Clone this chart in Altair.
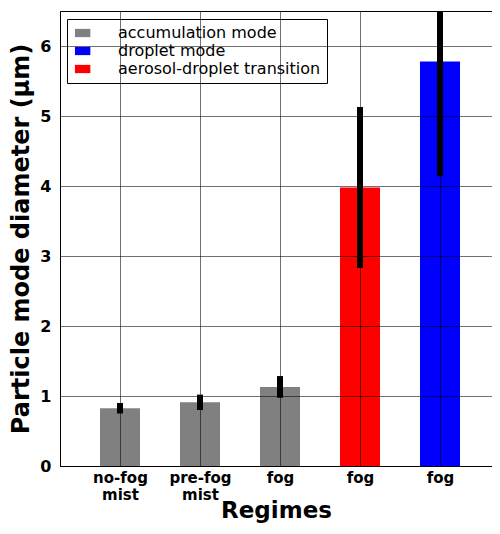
import json
import altair as alt
import pandas as pd

positions = [0, 1, 2, 3, 4]
values = [0.825, 0.91, 1.13, 3.98, 5.78]
errors = [0.075, 0.11, 0.155, 1.15, 1.64]
modes = ["accumulation mode", "accumulation mode", "accumulation mode",
         "aerosol-droplet transition", "droplet mode"]
tick_labels = [["no-fog", "mist"], ["pre-fog", "mist"], ["fog"], ["fog"], ["fog"]]
legend_order = ["accumulation mode", "droplet mode", "aerosol-droplet transition"]
legend_colors = ["#808080", "#0000ff", "#ff0000"]

df = pd.DataFrame({
    "pos": positions,
    "value": values,
    "err": errors,
    "mode": modes,
})
df["left"] = df["pos"] - 0.25
df["right"] = df["pos"] + 0.25
df["lo"] = df["value"] - df["err"]
df["hi"] = df["value"] + df["err"]

FONT = "DejaVu Sans"
label_expr = json.dumps(tick_labels).replace('"', "'") + "[datum.value]"

xscale = alt.Scale(domain=[-0.75, 4.65], nice=False, zero=False)
yscale = alt.Scale(domain=[0, 6.5], nice=False)

base = alt.Chart(df)

bars = base.mark_rect().encode(
    x=alt.X("left:Q", scale=xscale,
            axis=alt.Axis(values=positions, labelExpr=label_expr, title="Regimes",
                          grid=True, gridColor="#000000", gridOpacity=0.7, gridWidth=0.8,
                          ticks=False, labelFont=FONT, labelFontSize=15, labelFontWeight="bold",
                          labelColor="#000", labelPadding=4, labelLineHeight=17,
                          titleFont=FONT, titleFontSize=23, titleFontWeight="bold",
                          titleColor="#000", titlePadding=-3, domainColor="#000", zindex=1)),
    x2="right:Q",
    y=alt.Y("value:Q", scale=yscale,
            axis=alt.Axis(values=[0, 1, 2, 3, 4, 5, 6], format="d",
                          title="Particle mode diameter (μm)",
                          grid=True, gridColor="#000000", gridOpacity=0.7, gridWidth=0.8,
                          ticks=False, labelFont=FONT, labelFontSize=16, labelFontWeight="bold",
                          labelColor="#000", labelPadding=9,
                          titleFont=FONT, titleFontSize=24, titleFontWeight="bold",
                          titleColor="#000", titlePadding=6, domainColor="#000", zindex=1)),
    y2=alt.datum(0),
    color=alt.Color("mode:N",
                    scale=alt.Scale(domain=legend_order, range=legend_colors),
                    legend=alt.Legend(title=None, orient="none", legendX=7, legendY=8,
                                      fillColor="#ffffff", strokeColor="#000000",
                                      padding=6, labelFont=FONT, labelFontSize=16,
                                      labelColor="#000", labelLimit=400,
                                      symbolType="M-1.1,-0.75H1.7V0.75H-1.1Z",
                                      symbolSize=121, symbolStrokeWidth=0, symbolOpacity=1,
                                      rowPadding=2, labelOffset=29, cornerRadius=0)),
)

errbars = base.mark_rule(color="#000000", strokeWidth=6, clip=True).encode(
    x=alt.X("pos:Q", scale=xscale),
    y=alt.Y("lo:Q", scale=yscale),
    y2="hi:Q",
)

chart = alt.layer(bars, errbars).properties(
    width=432, height=455,
    autosize=alt.AutoSizeParams(type="none"),
    padding={"left": 52, "top": 3, "right": 0, "bottom": 60},
).configure_view(stroke="#000000", strokeWidth=1)

chart.save("out.html", embed_options={"renderer": "svg", "actions": False})
